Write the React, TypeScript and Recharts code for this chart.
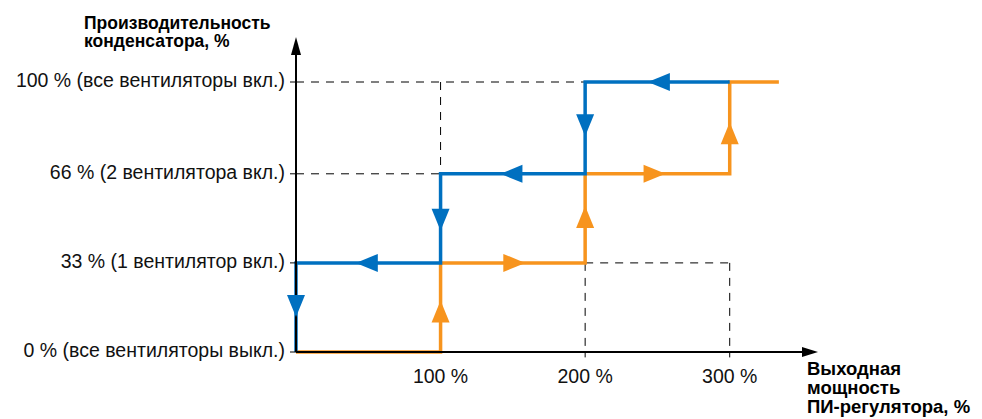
import React from 'react';
import {
  ComposedChart,
  Line,
  Scatter,
  XAxis,
  YAxis,
  ReferenceLine,
  ReferenceDot,
} from 'recharts';

// ---- data ----
const orangeSeries = [
  { x: 0, y: 0 },
  { x: 100, y: 0 },
  { x: 100, y: 33 },
  { x: 200, y: 33 },
  { x: 200, y: 66 },
  { x: 300, y: 66 },
  { x: 300, y: 100 },
  { x: 334, y: 100 },
];

const blueSeries = [
  { x: 300, y: 100 },
  { x: 200, y: 100 },
  { x: 200, y: 66 },
  { x: 100, y: 66 },
  { x: 100, y: 33 },
  { x: 0, y: 33 },
  { x: 0, y: 0 },
];

const orangeArrows = [
  { x: 100, y: 15, dir: 'up' },
  { x: 151, y: 33, dir: 'right' },
  { x: 200, y: 50, dir: 'up' },
  { x: 248, y: 66, dir: 'right' },
  { x: 300, y: 81, dir: 'up' },
];

const blueArrows = [
  { x: 251, y: 100, dir: 'left' },
  { x: 200, y: 84, dir: 'down' },
  { x: 149, y: 66, dir: 'left' },
  { x: 100, y: 49, dir: 'down' },
  { x: 49, y: 33, dir: 'left' },
  { x: 0, y: 17, dir: 'down' },
];

const guideSegments = [
  [{ x: 0, y: 100 }, { x: 200, y: 100 }],
  [{ x: 0, y: 66 }, { x: 100, y: 66 }],
  [{ x: 100, y: 100 }, { x: 100, y: 66 }],
  [{ x: 200, y: 33 }, { x: 300, y: 33 }],
  [{ x: 200, y: 33 }, { x: 200, y: -2 }],
  [{ x: 300, y: 33 }, { x: 300, y: -2 }],
];

const yTicks = [0, 33, 66, 100];
const yTickLabels = [
  '0 % (все вентиляторы выкл.)',
  '33 % (1 вентилятор вкл.)',
  '66 % (2 вентилятора вкл.)',
  '100 % (все вентиляторы вкл.)',
];
const xTicks = [100, 200, 300];
const xTickLabels = ['100 %', '200 %', '300 %'];

const yTitle = ['Производительность', 'конденсатора, %'];
const xTitle = ['Выходная', 'мощность', 'ПИ-регулятора, %'];

const BLUE = '#0070C0';
const ORANGE = '#F7941E';
const FONT = '"Liberation Sans", Arial, sans-serif';

const ArrowHead = (props: any) => {
  const { cx, cy, payload, fill } = props;
  if (cx == null || cy == null) return null;
  const L = 11; // half length
  const W = 9; // half width
  let pts = '';
  switch (payload.dir) {
    case 'left':
      pts = `${cx - L},${cy} ${cx + L},${cy - W} ${cx + L},${cy + W}`;
      break;
    case 'right':
      pts = `${cx + L},${cy} ${cx - L},${cy - W} ${cx - L},${cy + W}`;
      break;
    case 'up':
      pts = `${cx},${cy - L} ${cx - W},${cy + L} ${cx + W},${cy + L}`;
      break;
    default:
      pts = `${cx},${cy + L} ${cx - W},${cy - L} ${cx + W},${cy - L}`;
  }
  return <polygon points={pts} fill={fill} />;
};

const YTick = (props: any) => {
  const { x, y, payload } = props;
  const idx = yTicks.indexOf(payload.value);
  return (
    <text
      x={x}
      y={y}
      dy="0.25em"
      textAnchor="end"
      fontFamily={FONT}
      fontSize={19.5}
      fill="#111"
    >
      {yTickLabels[idx]}
    </text>
  );
};

const XTick = (props: any) => {
  const { x, y, payload } = props;
  const idx = xTicks.indexOf(payload.value);
  return (
    <text
      x={x}
      y={y + 31}
      textAnchor="middle"
      fontFamily={FONT}
      fontSize={19.5}
      fill="#111"
    >
      {xTickLabels[idx]}
    </text>
  );
};

const YTitle = () => (
  <text fontFamily={FONT} fontSize={17.5} fontWeight="bold" fill="#000">
    <tspan x={76} y={20.5}>
      {yTitle[0]}
    </tspan>
    <tspan x={76} y={39}>
      {yTitle[1]}
    </tspan>
  </text>
);

const XTitle = () => (
  <text fontFamily={FONT} fontSize={18.5} fontWeight="bold" fill="#000">
    <tspan x={799} y={367}>
      {xTitle[0]}
    </tspan>
    <tspan x={799} y={386}>
      {xTitle[1]}
    </tspan>
    <tspan x={799} y={405}>
      {xTitle[2]}
    </tspan>
  </text>
);

const UpArrow = (props: any) => {
  const { cx, cy } = props;
  return <polygon points={`${cx},${cy - 18} ${cx - 5},${cy} ${cx + 5},${cy}`} fill="#000" />;
};

const RightArrow = (props: any) => {
  const { cx, cy } = props;
  return <polygon points={`${cx + 16},${cy} ${cx},${cy - 5} ${cx},${cy + 5}`} fill="#000" />;
};

export default function App() {
  return (
    <div style={{ width: 974, height: 411 }}>
      <ComposedChart
        width={974}
        height={411}
        margin={{ top: 47, right: 180, left: 0, bottom: 0 }}
      >
        <XAxis
          dataKey="x"
          type="number"
          domain={[0, 350]}
          ticks={xTicks}
          tick={<XTick />}
          tickLine={false}
          tickSize={0}
          tickMargin={0}
          axisLine={{ stroke: '#000', strokeWidth: 2 }}
          height={67}
          label={{ content: () => <XTitle /> }}
        />
        <YAxis
          type="number"
          domain={[0, 110]}
          ticks={yTicks}
          tick={<YTick />}
          tickLine={{ stroke: '#000', strokeWidth: 1 }}
          tickSize={6}
          tickMargin={5}
          axisLine={{ stroke: '#000', strokeWidth: 2 }}
          width={288}
          label={{ content: () => <YTitle /> }}
        />
        {guideSegments.map((seg, i) => (
          <ReferenceLine
            key={i}
            segment={seg}
            stroke="#000"
            strokeWidth={1}
            strokeDasharray="8 7"
            ifOverflow="visible"
          />
        ))}
        <ReferenceDot x={0} y={110} r={0} ifOverflow="visible" shape={<UpArrow />} />
        <ReferenceDot x={350} y={0} r={0} ifOverflow="visible" shape={<RightArrow />} />
        <Line
          data={orangeSeries}
          dataKey="y"
          type="linear"
          stroke={ORANGE}
          strokeWidth={3.5}
          dot={false}
          activeDot={false}
          isAnimationActive={false}
        />
        <Line
          data={blueSeries}
          dataKey="y"
          type="linear"
          stroke={BLUE}
          strokeWidth={3.5}
          dot={false}
          activeDot={false}
          isAnimationActive={false}
        />
        <Scatter
          data={orangeArrows}
          dataKey="y"
          fill={ORANGE}
          shape={(p: any) => <ArrowHead {...p} fill={ORANGE} />}
          isAnimationActive={false}
        />
        <Scatter
          data={blueArrows}
          dataKey="y"
          fill={BLUE}
          shape={(p: any) => <ArrowHead {...p} fill={BLUE} />}
          isAnimationActive={false}
        />
      </ComposedChart>
    </div>
  );
}
